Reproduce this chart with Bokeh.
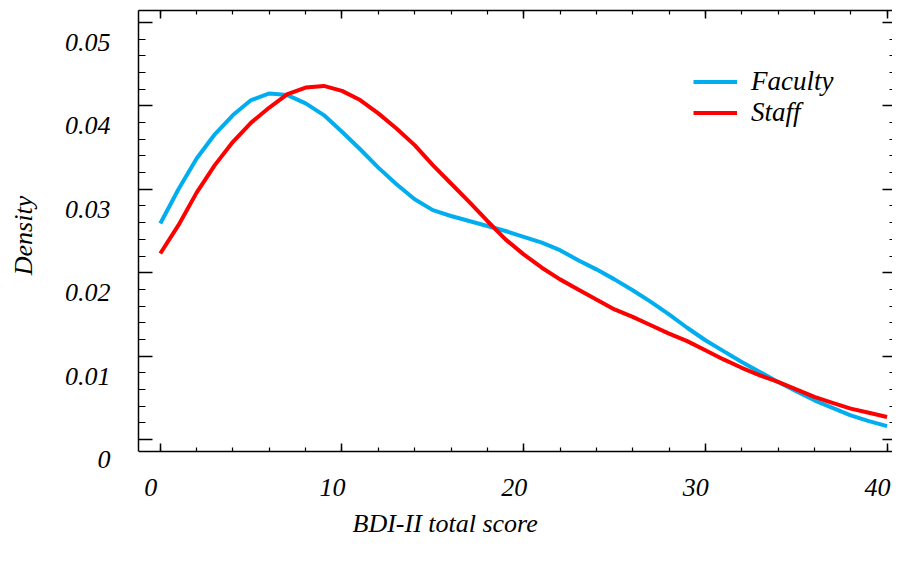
from bokeh.plotting import figure
from bokeh.models import LinearAxis, Range1d, FixedTicker, Legend, LegendItem, Title
from bokeh.core.properties import value
from bokeh.embed import file_html
from bokeh.resources import INLINE

# ---- data ----
score = list(range(0, 41))
faculty = [0.0259, 0.0300, 0.0337, 0.0366, 0.0389, 0.0407, 0.0415, 0.0413, 0.0403, 0.0389,
           0.0369, 0.0348, 0.0326, 0.0306, 0.0288, 0.0275, 0.0268, 0.0262, 0.0256, 0.0250,
           0.0243, 0.0236, 0.0227, 0.0215, 0.0204, 0.0192, 0.0179, 0.0165, 0.0150, 0.0134,
           0.0119, 0.0106, 0.0093, 0.0081, 0.0069, 0.0058, 0.0047, 0.0038, 0.0029, 0.0022,
           0.0016]
staff = [0.0223, 0.0257, 0.0296, 0.0329, 0.0357, 0.0380, 0.0398, 0.0414, 0.0422, 0.0424,
         0.0418, 0.0407, 0.0391, 0.0373, 0.0353, 0.0329, 0.0307, 0.0285, 0.0262, 0.0240,
         0.0222, 0.0206, 0.0192, 0.0180, 0.0168, 0.0156, 0.0147, 0.0137, 0.0127, 0.0118,
         0.0107, 0.0096, 0.0086, 0.0077, 0.0069, 0.0060, 0.0051, 0.0044, 0.0037, 0.0032,
         0.0027]
series_names = ["Faculty", "Staff"]
series_colors = ["#00AEEF", "#FF0000"]

x_ticks = [0, 10, 20, 30, 40]
x_tick_labels = ["0", "10", "20", "30", "40"]
x_minor = list(range(0, 41, 2))
y_ticks = [0, 0.01, 0.02, 0.03, 0.04, 0.05]
y_tick_labels = ["0", "0.01", "0.02", "0.03", "0.04", "0.05"]
y_minor = [round(i * 0.002, 3) for i in range(26)]

x_title = "BDI-II total score"
y_title = "Density"

FONT = "Liberation Serif"
FS = "26px"

X0, X1 = -1.2, 40.3
Y_BOX = -0.0014          # where the drawn box's bottom edge lies
Y0, Y1 = -0.002518, 0.05144
XSHIFT = 0.523    # tick labels sit a little left of their ticks (as in the reference)
YSHIFT = 0.0024   # and a little below them

p = figure(width=892, height=545, output_backend="svg", toolbar_location=None,
           x_range=Range1d(X0, X1), y_range=Range1d(Y0, Y1),
           min_border_left=138, min_border_right=0, min_border_top=10, min_border_bottom=83)
p.outline_line_color = None
p.xgrid.visible = False
p.ygrid.visible = False
p.extra_x_ranges = {"xlabels": Range1d(X0 + XSHIFT, X1 + XSHIFT)}
p.extra_y_ranges = {"ylabels": Range1d(Y0 + YSHIFT, Y1 + YSHIFT)}

def tick_only(ax, major_in, minor_in):
    ax.major_tick_in = major_in
    ax.major_tick_out = 0
    ax.minor_tick_in = minor_in
    ax.minor_tick_out = 0
    ax.axis_line_width = 1.5
    ax.major_tick_line_width = 1.5
    ax.minor_tick_line_width = 1.2
    ax.axis_line_color = "black"
    ax.major_tick_line_color = "black"
    ax.minor_tick_line_color = "black"
    ax.major_label_text_color = None
    ax.major_label_text_font_size = "1px"
    ax.major_label_standoff = 0

def label_only(ax, standoff):
    ax.axis_line_color = None
    ax.major_tick_line_color = None
    ax.minor_tick_line_color = None
    ax.major_tick_in = 0
    ax.major_tick_out = 0
    ax.minor_tick_in = 0
    ax.minor_tick_out = 0
    ax.major_label_standoff = standoff
    ax.major_label_text_font = FONT
    ax.major_label_text_font_style = "italic"
    ax.major_label_text_font_size = FS
    ax.major_label_text_color = "black"

# frame ticks
xb = p.xaxis[0]
xb.ticker = FixedTicker(ticks=x_ticks, minor_ticks=x_minor)
tick_only(xb, 8, 4)
xb.fixed_location = Y_BOX

yl = p.yaxis[0]
yl.ticker = FixedTicker(ticks=y_ticks, minor_ticks=y_minor)
tick_only(yl, 14, 7)
yl.bounds = (Y_BOX, Y1)

xt = LinearAxis(ticker=FixedTicker(ticks=x_ticks, minor_ticks=x_minor))
tick_only(xt, 8, 4)
p.add_layout(xt, "above")

yr = LinearAxis(ticker=FixedTicker(ticks=y_ticks, minor_ticks=y_minor))
tick_only(yr, 10, 3)
yr.axis_line_color = None
yr.bounds = (Y_BOX, Y1)
p.add_layout(yr, "right")

# tick labels
xlab = LinearAxis(x_range_name="xlabels", ticker=FixedTicker(ticks=x_ticks),
                  major_label_overrides=dict(zip(x_ticks, x_tick_labels)))
label_only(xlab, 18)
p.add_layout(xlab, "below")

ylab = LinearAxis(y_range_name="ylabels", ticker=FixedTicker(ticks=y_ticks),
                  major_label_overrides=dict(zip(y_ticks, y_tick_labels)))
label_only(ylab, 28)
ylab.axis_label = y_title
ylab.axis_label_standoff = 24
ylab.axis_label_text_font = FONT
ylab.axis_label_text_font_style = "italic"
ylab.axis_label_text_font_size = FS
ylab.axis_label_text_color = "black"
p.add_layout(ylab, "left")

t = Title(text=x_title, align="left", offset=214, text_font=FONT,
          text_font_style="italic", text_font_size=FS, text_color="black", standoff=16)
p.add_layout(t, "below")

r1 = p.line(score, faculty, line_color=series_colors[0], line_width=4)
r2 = p.line(score, staff, line_color=series_colors[1], line_width=4)

legend = Legend(items=[LegendItem(label=value(series_names[0]), renderers=[r1]),
                       LegendItem(label=value(series_names[1]), renderers=[r2])],
                location=(555, 332))
legend.glyph_width = 44
legend.glyph_height = 27
legend.label_height = 27
legend.label_standoff = 14
legend.spacing = 0
legend.padding = 0
legend.margin = 0
legend.border_line_color = None
legend.background_fill_alpha = 0
legend.label_text_font = FONT
legend.label_text_font_style = "italic"
legend.label_text_font_size = "27px"
legend.label_text_line_height = 0.9
legend.label_text_color = "black"
p.add_layout(legend)

open("out.html", "w").write(file_html(p, INLINE))
